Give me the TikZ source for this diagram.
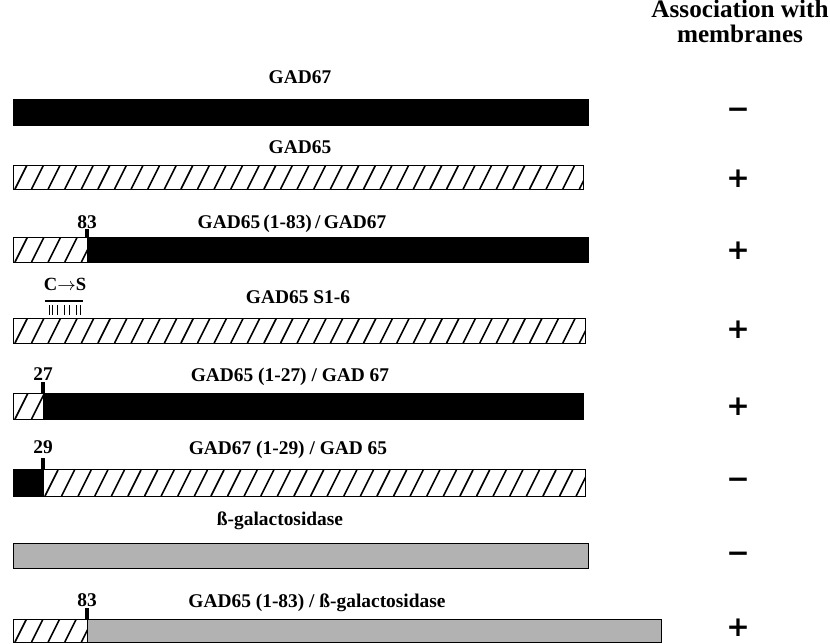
\documentclass[tikz,border=0pt]{standalone}
\usepackage{fontspec}
\setmainfont{Liberation Serif}
\newfontfamily\signfont{DejaVu Sans}
\tikzset{
  bar/.style={draw=black, line width=0.5pt},
  hatch/.style={line width=0.8pt},
  tick/.style={line width=1.7pt},
  lab/.style={font=\fontsize{9.7}{11}\selectfont\bfseries, anchor=base, inner sep=0pt},
  sign/.style={font=\fontsize{14}{15}\signfont\bfseries, inner sep=0pt},
}
\newcommand{\hatchbar}[4]{%
  \begin{scope}
    \clip (#1,#3) rectangle (#2,#4);
    \foreach \k in {0,...,45}
      \draw[hatch] ({#1+2+16.6*\k},#4) -- ++(13,-26);
  \end{scope}
  \draw[bar] (#1,#3) rectangle (#2,#4);
}
\begin{document}
\begin{tikzpicture}[x=0.5pt,y=-0.5pt]
	\useasboundingbox (0,0) rectangle (830,643);
	\node[lab, font=\fontsize{12.6}{12.2}\selectfont\bfseries, align=center, anchor=north] (head) at (740,0) {Association with\\membranes};

	\node[lab] (lab1) at (300,83) {GAD67};
	\fill (13,99) rectangle (588,125);
	\draw[bar] (13,99) rectangle (588,125);
	\node[sign] (sign1) at (738,113) {−};

	\node[lab] (lab2) at (300,153) {GAD65};
	\hatchbar{13}{583}{165}{189}
	\node[sign] (sign2) at (738,179) {+};

	\node[lab] (lab3) at (292,228) {GAD65\,(1-83)\,/\,GAD67};
	\hatchbar{13}{87}{237}{262}
	\fill (87,237) rectangle (588,262);
	\draw[bar] (87,237) rectangle (588,262);
	\node[lab] (n83a) at (87,228) {83};
	\coordinate (c83a) at (87,237);
	\draw[tick] (c83a) -- ++(0,-8);
	\node[sign] (sign3) at (738,251) {+};

	\node[lab] (lab4) at (298,303) {GAD65 S1-6};
	\hatchbar{13}{585}{318}{343}
	\node[lab, font=\fontsize{9.3}{10}\selectfont\bfseries] (cs) at (65,290) {C$\rightarrow$S};
	\draw[line width=0.7pt] (45,301) -- (83,301);
	\foreach \x in {49,52,57,64,69,76,80}
		\draw[line width=0.5pt] (\x,305) -- (\x,315);
	\node[sign] (sign4) at (738,330) {+};

	\node[lab] (lab5) at (290,381) {GAD65 (1-27) / GAD 67};
	\hatchbar{13}{43}{393}{419}
	\fill (43,393) rectangle (583,419);
	\draw[bar] (43,393) rectangle (583,419);
	\node[lab] (n27) at (43,380) {27};
	\coordinate (c27) at (43,393);
	\draw[tick] (c27) -- ++(0,-11);
	\node[sign] (sign5) at (738,407) {+};

	\node[lab] (lab6) at (288,454) {GAD67 (1-29) / GAD 65};
	\fill (13,469) rectangle (43,496);
	\draw[bar] (13,469) rectangle (43,496);
	\hatchbar{43}{585}{469}{496}
	\node[lab] (n29) at (43,453) {29};
	\coordinate (c29) at (43,469);
	\draw[tick] (c29) -- ++(0,-11);
	\node[sign] (sign6) at (738,483) {−};

	\node[lab] (lab7) at (280,525) {ß-galactosidase};
	\draw[bar, fill=black!30] (13,543) rectangle (588,568);
	\node[sign] (sign7) at (738,557) {−};

	\node[lab] (lab8) at (317,607) {GAD65 (1-83) / ß-galactosidase};
	\hatchbar{13}{87}{619}{642}
	\draw[bar, fill=black!30] (87,619) rectangle (661,642);
	\node[lab] (n83b) at (87,606) {83};
	\coordinate (c83b) at (87,619);
	\draw[tick] (c83b) -- ++(0,-11);
	\node[sign] (sign8) at (738,628) {+};
\end{tikzpicture}
\end{document}
